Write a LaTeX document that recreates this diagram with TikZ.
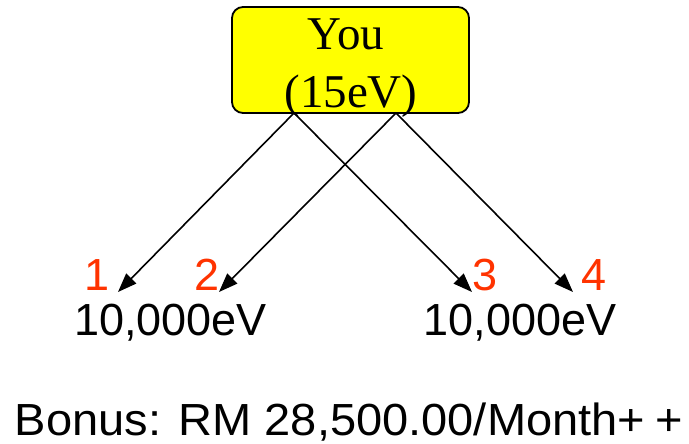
\documentclass[tikz,border=0pt]{standalone}
\usepackage{fontspec}
\setmainfont{Liberation Serif}
\newfontfamily\labelsans{Liberation Sans}
\usetikzlibrary{arrows.meta}
\definecolor{numred}{RGB}{255,51,0}
\definecolor{boxyellow}{RGB}{255,255,0}
\tikzset{
  youbox/.style={draw=black, line width=1.8pt, fill=boxyellow, rounded corners=11pt,
    minimum width=237pt, minimum height=106pt, inner sep=0pt},
  serifbig/.style={font=\fontsize{47}{57}\selectfont, inner sep=0pt, anchor=base},
  evtext/.style={font=\labelsans\fontsize{45}{54}\selectfont, inner sep=0pt, anchor=base},
  numtext/.style={font=\labelsans\fontsize{45}{54}\selectfont, text=numred, inner sep=0pt, anchor=base},
  arr/.style={-{Triangle[length=19pt,width=14pt]}, line width=1.6pt, black, shorten >=0pt}
}
\begin{document}
\begin{tikzpicture}[x=1pt,y=-1pt]
\useasboundingbox (0,0) rectangle (689,444);
\node[youbox] (you) at (350.5,60) {};
\node[serifbig] (you1) at (346,50) {You};
\node[serifbig] (you2) at (351,107) {(15eV)};
\coordinate (s1) at (294,113);
\coordinate (s2) at (396,113);
\coordinate (t1) at (118,292);
\coordinate (t2) at (219,292);
\coordinate (t3) at (472,292);
\coordinate (t4) at (573,292);
\draw[arr] (s1) -- (t1);
\draw[arr] (s2) -- (t2);
\draw[arr] (s1) -- (t3);
\draw[arr] (s2) -- (t4);
\node[numtext] (n1) at (97,290) {1};
\node[numtext] (n2) at (207.5,290) {2};
\node[numtext] (n3) at (485.5,290) {3};
\node[numtext] (n4) at (594,290) {4};
\node[evtext] (ev1) at (170.5,335) {10,000eV};
\node[evtext] (ev2) at (520,335) {10,000eV};
\node[evtext] (bonus) at (349,435) {\scalebox{1.045}[1]{Bonus: RM 28,500.00/Month+\kern10pt+}};
\end{tikzpicture}
\end{document}
